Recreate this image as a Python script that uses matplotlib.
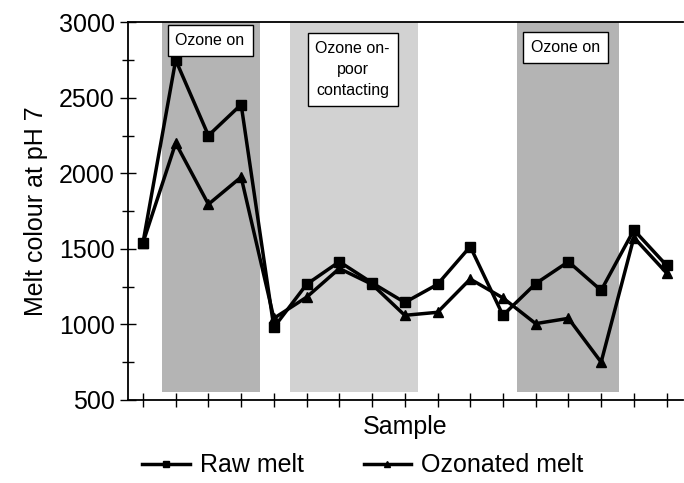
import numpy as np
import matplotlib.pyplot as plt
from matplotlib.ticker import MultipleLocator

plt.rcParams['font.family'] = ['Liberation Sans', 'DejaVu Sans']

# Sample data
samples = np.arange(17)
raw_melt = [1540, 2750, 2250, 2455, 980, 1265, 1415, 1275, 1145, 1265,
            1515, 1060, 1270, 1415, 1225, 1625, 1390]
ozonated_melt = [1540, 2200, 1795, 1975, 1040, 1180, 1370, 1265, 1060, 1080,
                 1300, 1175, 1005, 1040, 750, 1575, 1340]

# Shaded periods (start, end, colour) and their labels
periods = [(0.58, 3.57, '#b4b4b4'), (4.49, 8.40, '#d2d2d2'), (11.42, 14.56, '#b4b4b4')]
period_labels = ['Ozone on', 'Ozone on-\npoor\ncontacting', 'Ozone on']
label_pos = [(2.05, 2880), (6.41, 2690), (12.92, 2835)]

fig = plt.figure(figsize=(6.84, 4.83), dpi=100)
ax = fig.add_axes([0.187, 0.172, 0.811, 0.782])

for (x0, x1, c) in periods:
    ax.fill_between([x0, x1], 555, 3000, color=c, lw=0, zorder=0)

for txt, (x, y) in zip(period_labels, label_pos):
    ax.text(x, y, txt, ha='center', va='center', fontsize=11.5, zorder=3,
            linespacing=1.5,
            bbox=dict(boxstyle='square,pad=0.5', fc='white', ec='black', lw=1))

ax.plot(samples, raw_melt, color='black', lw=2.5, marker='s', markersize=7,
        label='Raw melt', zorder=2)
ax.plot(samples, ozonated_melt, color='black', lw=2.5, marker='^', markersize=7,
        label='Ozonated melt', zorder=2)

ax.set_xlim(-0.46, 16.49)
ax.set_ylim(500, 3000)
ax.set_xticks(samples)
ax.set_xticklabels([])
ax.yaxis.set_major_locator(MultipleLocator(500))
ax.yaxis.set_minor_locator(MultipleLocator(250))
ax.tick_params(axis='x', direction='inout', length=10, width=1)
ax.tick_params(axis='y', which='major', direction='inout', length=12, width=1, labelsize=18)
ax.tick_params(axis='y', which='minor', direction='inout', length=8, width=1)

ax.spines['right'].set_visible(False)
for s in ['left', 'bottom', 'top']:
    ax.spines[s].set_linewidth(1.3)

ax.set_xlabel('Sample', fontsize=18, labelpad=2)
ax.set_ylabel('Melt colour at pH 7', fontsize=18, labelpad=8)

fig.legend(loc='lower left', bbox_to_anchor=(0.175, -0.035), ncol=2, frameon=False,
           fontsize=18, handlelength=1.9, markerscale=0.6, columnspacing=2.4,
           handletextpad=0.4)

fig.savefig('out.png', dpi=100)
